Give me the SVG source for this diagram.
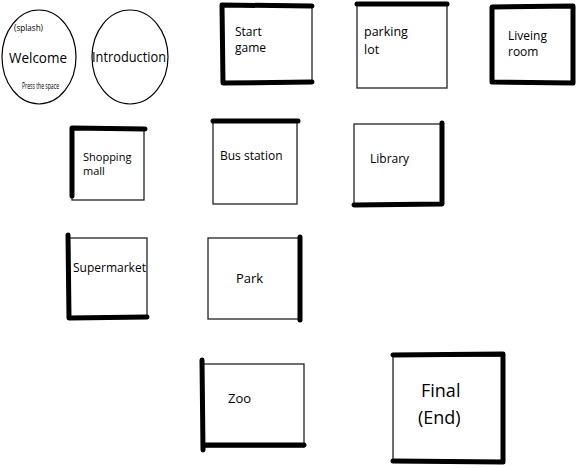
<svg xmlns="http://www.w3.org/2000/svg" width="577" height="468" viewBox="0 0 577 468">
<style>
.bg{fill:#fff}
.thin{fill:#fff;stroke:#222;stroke-width:1.3}
.thick{fill:none;stroke:#000;stroke-width:5;stroke-linecap:round;stroke-linejoin:round}
.ell{fill:#fff;stroke:#000;stroke-width:1.2}
text{font-family:"Open Sans","Liberation Sans",sans-serif;fill:#000}
.t12{font-size:12px}
.t13{font-size:13px}
.t11{font-size:11px}
</style>
<rect class="bg" x="0" y="0" width="577" height="468"/>
<g id="connectors"/>
<g id="welcome">
<ellipse class="ell" cx="39" cy="57" rx="37" ry="47"/>
<text x="14" y="31" style="font-size:9px" textLength="29" lengthAdjust="spacingAndGlyphs">(splash)</text>
<text x="9" y="63" style="font-size:15px" textLength="58" lengthAdjust="spacingAndGlyphs">Welcome</text>
<text x="22" y="89" style="font-size:9px" textLength="37" lengthAdjust="spacingAndGlyphs">Press the space</text>
</g>
<g id="introduction">
<ellipse class="ell" cx="130" cy="57" rx="38" ry="47"/>
<text x="92" y="62" style="font-size:14px" textLength="74" lengthAdjust="spacingAndGlyphs">Introduction</text>
</g>
<g id="start-game">
<rect class="thin" x="222" y="6" width="90" height="77"/>
<path class="thick" d="M312 6 L222 5 L223 83 L312 82"/>
<text class="t12" x="235" y="36">Start</text>
<text class="t12" x="235" y="52">game</text>
</g>
<g id="parking-lot">
<rect class="thin" x="357" y="5" width="90" height="83"/>
<path class="thick" d="M357 4 L447 4"/>
<text x="364" y="36" style="font-size:12.5px">parking</text>
<text x="364" y="54" style="font-size:12.5px">lot</text>
</g>
<g id="living-room">
<rect class="thin" x="492" y="7" width="81" height="75"/>
<path class="thick" d="M492 82 L492 7 L573 6 L573 83 L492 82"/>
<text class="t12" x="508" y="40">Liveing</text>
<text class="t12" x="508" y="56">room</text>
</g>
<g id="shopping-mall">
<rect class="thin" x="72" y="129" width="72" height="71"/>
<path class="thick" d="M72 196 L72 128 L145 129"/>
<text class="t11" x="83" y="161">Shopping</text>
<text class="t11" x="83" y="175">mall</text>
</g>
<g id="bus-station">
<rect class="thin" x="213" y="121" width="84" height="83"/>
<path class="thick" d="M213 121 L298 121"/>
<text class="t12" x="220" y="160">Bus station</text>
</g>
<g id="library">
<rect class="thin" x="354" y="124" width="88" height="81"/>
<path class="thick" d="M442 123 L442 204 L354 205"/>
<text class="t12" x="370" y="163">Library</text>
</g>
<g id="supermarket">
<rect class="thin" x="68" y="238" width="79" height="79"/>
<path class="thick" d="M68 235 L69 318 L147 317"/>
<text class="t12" x="73" y="272">Supermarket</text>
</g>
<g id="park">
<rect class="thin" x="208" y="238" width="92" height="81"/>
<path class="thick" d="M300 237 L300 320"/>
<text class="t13" x="236" y="283">Park</text>
</g>
<g id="zoo">
<rect class="thin" x="203" y="364" width="101" height="83"/>
<path class="thick" d="M202 360 L203 450 M203 445 L304 445"/>
<text class="t13" x="228" y="403">Zoo</text>
</g>
<g id="final">
<rect class="thin" x="393" y="356" width="110" height="105"/>
<path class="thick" d="M393 355 L503 354 L503 462 L393 461"/>
<text x="421" y="397" style="font-size:18px">Final</text>
<text x="418" y="424" style="font-size:18px">(End)</text>
</g>
</svg>
